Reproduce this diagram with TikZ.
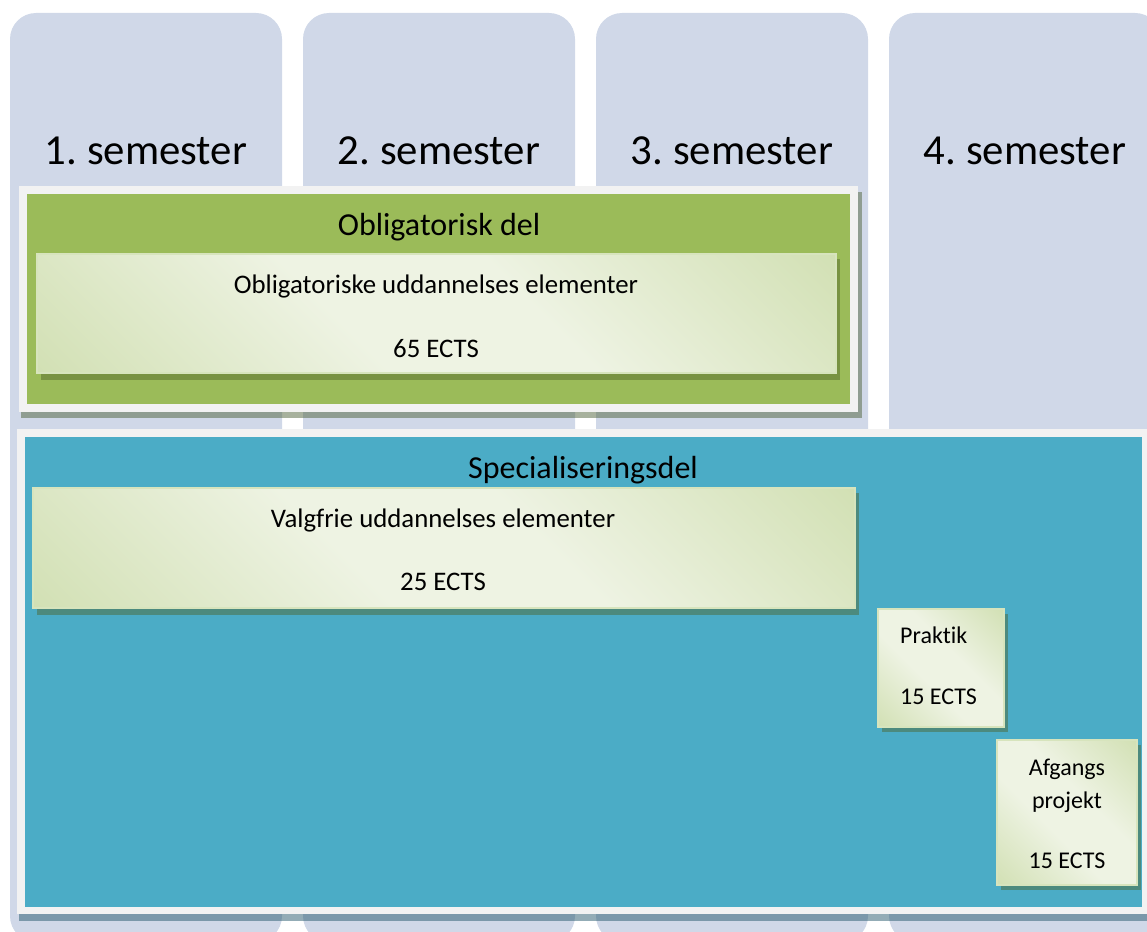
\documentclass[tikz,border=0pt]{standalone}
\usepackage{fontspec}
\setmainfont{Carlito}[Ligatures = NoCommon]
\usetikzlibrary{positioning}

\definecolor{semfill}{HTML}{D0D8E8}
\definecolor{framefill}{HTML}{F2F2F2}
\definecolor{oblfill}{HTML}{9BBB59}
\definecolor{specfill}{HTML}{4BACC6}
\definecolor{elemdark}{HTML}{C3D69B}
\definecolor{elemlight}{HTML}{EEF3E3}
\definecolor{elemline}{HTML}{D7E4BD}
\definecolor{oblshadow}{HTML}{50643C}
\definecolor{specshadow}{HTML}{285A6E}
\definecolor{elemshadow}{HTML}{4F6228}

\pgfdeclarehorizontalshading{elemshade}{100bp}{color(0bp)=(elemdark); color(42bp)=(elemlight); color(58bp)=(elemlight); color(100bp)=(elemdark)}

\tikzset{
  semcard/.style = {fill = semfill, rounded corners = 26pt},
  semlabel/.style = {anchor = base, font = \fontsize{42.8}{50}\selectfont},
  parttitle/.style = {anchor = base, font = \fontsize{32}{38}\selectfont},
  elemtext/.style = {anchor = base, font = \fontsize{26.8}{31}\selectfont},
  smalltext/.style = {anchor = base, font = \fontsize{24}{29}\selectfont},
  elembox/.style = {shading = elemshade, shading angle = 45, draw = elemline, line width = 1.5pt},
  elemshadowbox/.style = {fill = elemshadow, opacity = 0.45},
  partshadow/.style = {fill = #1, opacity = 0.5}
}

\begin{document}
\frenchspacing
\begin{tikzpicture}[x = 1pt, y = -1pt]
  \useasboundingbox (0, 0) rectangle (1147, 931);
  \clip (0, 0) rectangle (1147, 931);

  % semester columns
  \foreach \i in {1, ..., 4} {
    \pgfmathsetmacro{\colx}{10 + 293 * (\i - 1)}
    \fill [semcard] (\colx, 13) rectangle ++(272, 929);
    \node (sem\i) [semlabel] at (\colx + 136, 164) {\i. semester};
  }

  % obligatorisk del
  \fill [partshadow = oblshadow] (21, 192) rectangle (862, 418);
  \fill [framefill] (19, 186) rectangle (858, 412);
  \fill [oblfill] (27, 194) rectangle (850, 404);

  % specialiseringsdel
  \fill [partshadow = specshadow] (19, 433) rectangle (1160, 921);
  \fill [framefill] (17, 429) rectangle (1160, 914);
  \fill [specfill] (25, 437) rectangle (1142, 907);

  % elements
  \fill [elemshadowbox] (41, 259) rectangle (840, 380);
  \shadedraw [elembox] (37, 254) rectangle (836, 373);
  \fill [elemshadowbox] (37, 493) rectangle (859, 615);
  \shadedraw [elembox] (33, 488) rectangle (855, 608);
  \fill [elemshadowbox] (882, 614) rectangle (1008, 732);
  \shadedraw [elembox] (878, 609) rectangle (1004, 727);
  \fill [elemshadowbox] (1001, 745) rectangle (1141, 890);
  \shadedraw [elembox] (997, 740) rectangle (1137, 885);

  % texts
  \node (obltitle) [parttitle] at (439, 235) {Obligatorisk del};
  \node (obltext) [elemtext] at (436, 293) {Obligatoriske uddannelses elementer};
  \node (oblects) [elemtext] at (436, 357) {65 ECTS};
  \node (spectitle) [parttitle] at (583, 478) {Specialiseringsdel};
  \node (valgtext) [elemtext] at (443, 527) {Valgfrie uddannelses elementer};
  \node (valgects) [elemtext] at (443, 590) {25 ECTS};
  \node (praktext) [smalltext, anchor = base west, inner xsep = 0pt] at (900, 643) {Praktik};
  \node (prakects) [smalltext, anchor = base west, inner xsep = 0pt] at (900, 704) {15 ECTS};
  \node (afgtext) [smalltext] at (1067, 775) {Afgangs};
  \node (projtext) [smalltext] at (1067, 808) {projekt};
  \node (afgects) [smalltext] at (1067, 868) {15 ECTS};
\end{tikzpicture}
\end{document}
